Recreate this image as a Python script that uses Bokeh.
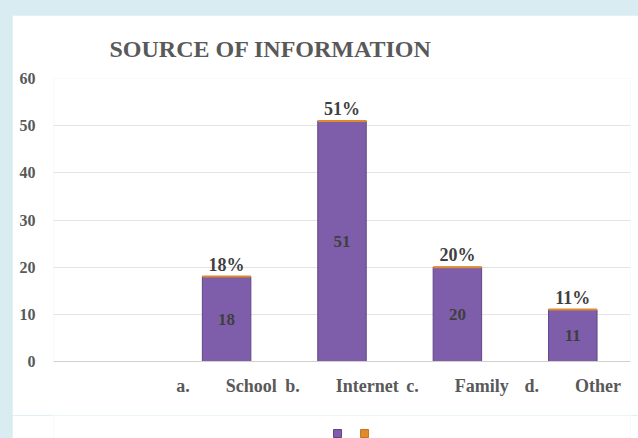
from bokeh.plotting import figure
from bokeh.models import (ColumnDataSource, FactorRange, Range1d, FixedTicker,
                          LabelSet, Spacer)
from bokeh.layouts import column, row
from bokeh.embed import file_html
from bokeh.resources import INLINE

NB = "\u00a0"
letters = ["a.", "b.", "c.", "d."]
sources = ["School", "Internet", "Family", "Other"]
counts = [18, 51, 20, 11]
y_ticks = [0, 10, 20, 30, 40, 50, 60]
title_text = "SOURCE OF INFORMATION"
series_names = ["Count", "Percent"]

categories = [NB] + [l + NB * 8 + s for l, s in zip(letters, sources)]
bar_cats = categories[1:]
total = sum(counts)
pct_labels = [f"{round(100 * c / total)}%" for c in counts]
mid = [c / 2 for c in counts]

src = ColumnDataSource(dict(x=bar_cats, top=counts, mid=mid,
                            val=[str(c) for c in counts], pct=pct_labels))

FONT = "Liberation Serif"
GREY = "#595959"
PURPLE = "#7e5eaa"
PURPLE_EDGE = "#5f4489"
ORANGE = "#e08a2c"
ORANGE_EDGE = "#c8741e"

p = figure(width=626, height=400, output_backend="svg", toolbar_location=None,
           x_range=FactorRange(*categories, range_padding=0),
           y_range=Range1d(0, 60),
           min_border_left=41, min_border_right=8, min_border_top=63,
           min_border_bottom=54)
p.outline_line_color = None
p.background_fill_color = "white"
p.border_fill_color = "white"

p.title.text = title_text
p.title.text_font = FONT
p.title.text_font_size = "24px"
p.title.text_font_style = "bold"
p.title.text_color = GREY
p.title.align = "left"
p.title.offset = 56
p.title.standoff = 34

p.vbar(x="x", top="top", width=0.42, source=src,
       fill_color=PURPLE, line_color=PURPLE_EDGE, line_width=1)
p.rect(x="x", y="top", width=0.42, height=2, height_units="screen",
       source=src, fill_color=ORANGE, line_color=None)

p.add_layout(LabelSet(x="x", y="mid", text="val", source=src,
                      text_font=FONT, text_font_size="17px", text_font_style="bold",
                      text_color="#3f3f3f", text_align="center",
                      text_baseline="middle"))
p.add_layout(LabelSet(x="x", y="top", text="pct", source=src, y_offset=2,
                      text_font=FONT, text_font_size="18px", text_font_style="bold",
                      text_color="#3f3f3f", text_align="center",
                      text_baseline="bottom"))

p.yaxis.ticker = FixedTicker(ticks=y_ticks)
p.yaxis.axis_line_color = None
p.yaxis.major_tick_line_color = None
p.yaxis.minor_tick_line_color = None
p.yaxis.major_label_text_font = FONT
p.yaxis.major_label_text_font_size = "16px"
p.yaxis.major_label_text_font_style = "bold"
p.yaxis.major_label_text_color = GREY
p.yaxis.major_label_standoff = 12

p.xaxis.axis_line_color = "#d0d0d0"
p.xaxis.major_tick_line_color = None
p.xaxis.minor_tick_line_color = None
p.xaxis.major_label_text_font = FONT
p.xaxis.major_label_text_font_size = "18px"
p.xaxis.major_label_text_font_style = "bold"
p.xaxis.major_label_text_color = GREY
p.xaxis.major_label_standoff = 8

p.xgrid.grid_line_color = None
p.ygrid.grid_line_color = "#e3e3e3"

# legend strip: two unlabeled series swatches, as in the reference
lf = figure(width=626, height=23, output_backend="svg", toolbar_location=None,
            x_range=Range1d(-10.52, 10.85), y_range=Range1d(-5, 18),
            min_border_left=41, min_border_right=8,
            min_border_top=0, min_border_bottom=0)
lf.axis.visible = False
lf.grid.grid_line_color = None
lf.outline_line_color = None
lf.border_fill_color = "white"
lf.background_fill_color = "white"
leg_src = ColumnDataSource(dict(
    x=list(range(len(series_names))), y=[0] * len(series_names),
    name=series_names, fill=[PURPLE, ORANGE], edge=[PURPLE_EDGE, ORANGE_EDGE]))
lf.scatter(x="x", y="y", marker="square", size=8, source=leg_src,
           fill_color="fill", line_color="edge")

layout = column(Spacer(width=638, height=15),
                row(Spacer(width=12, height=423), column(p, lf, spacing=0),
                    spacing=0),
                spacing=0, styles={"background-color": "#d9ecf2"})

open("out.html", "w").write(file_html(layout, INLINE))
